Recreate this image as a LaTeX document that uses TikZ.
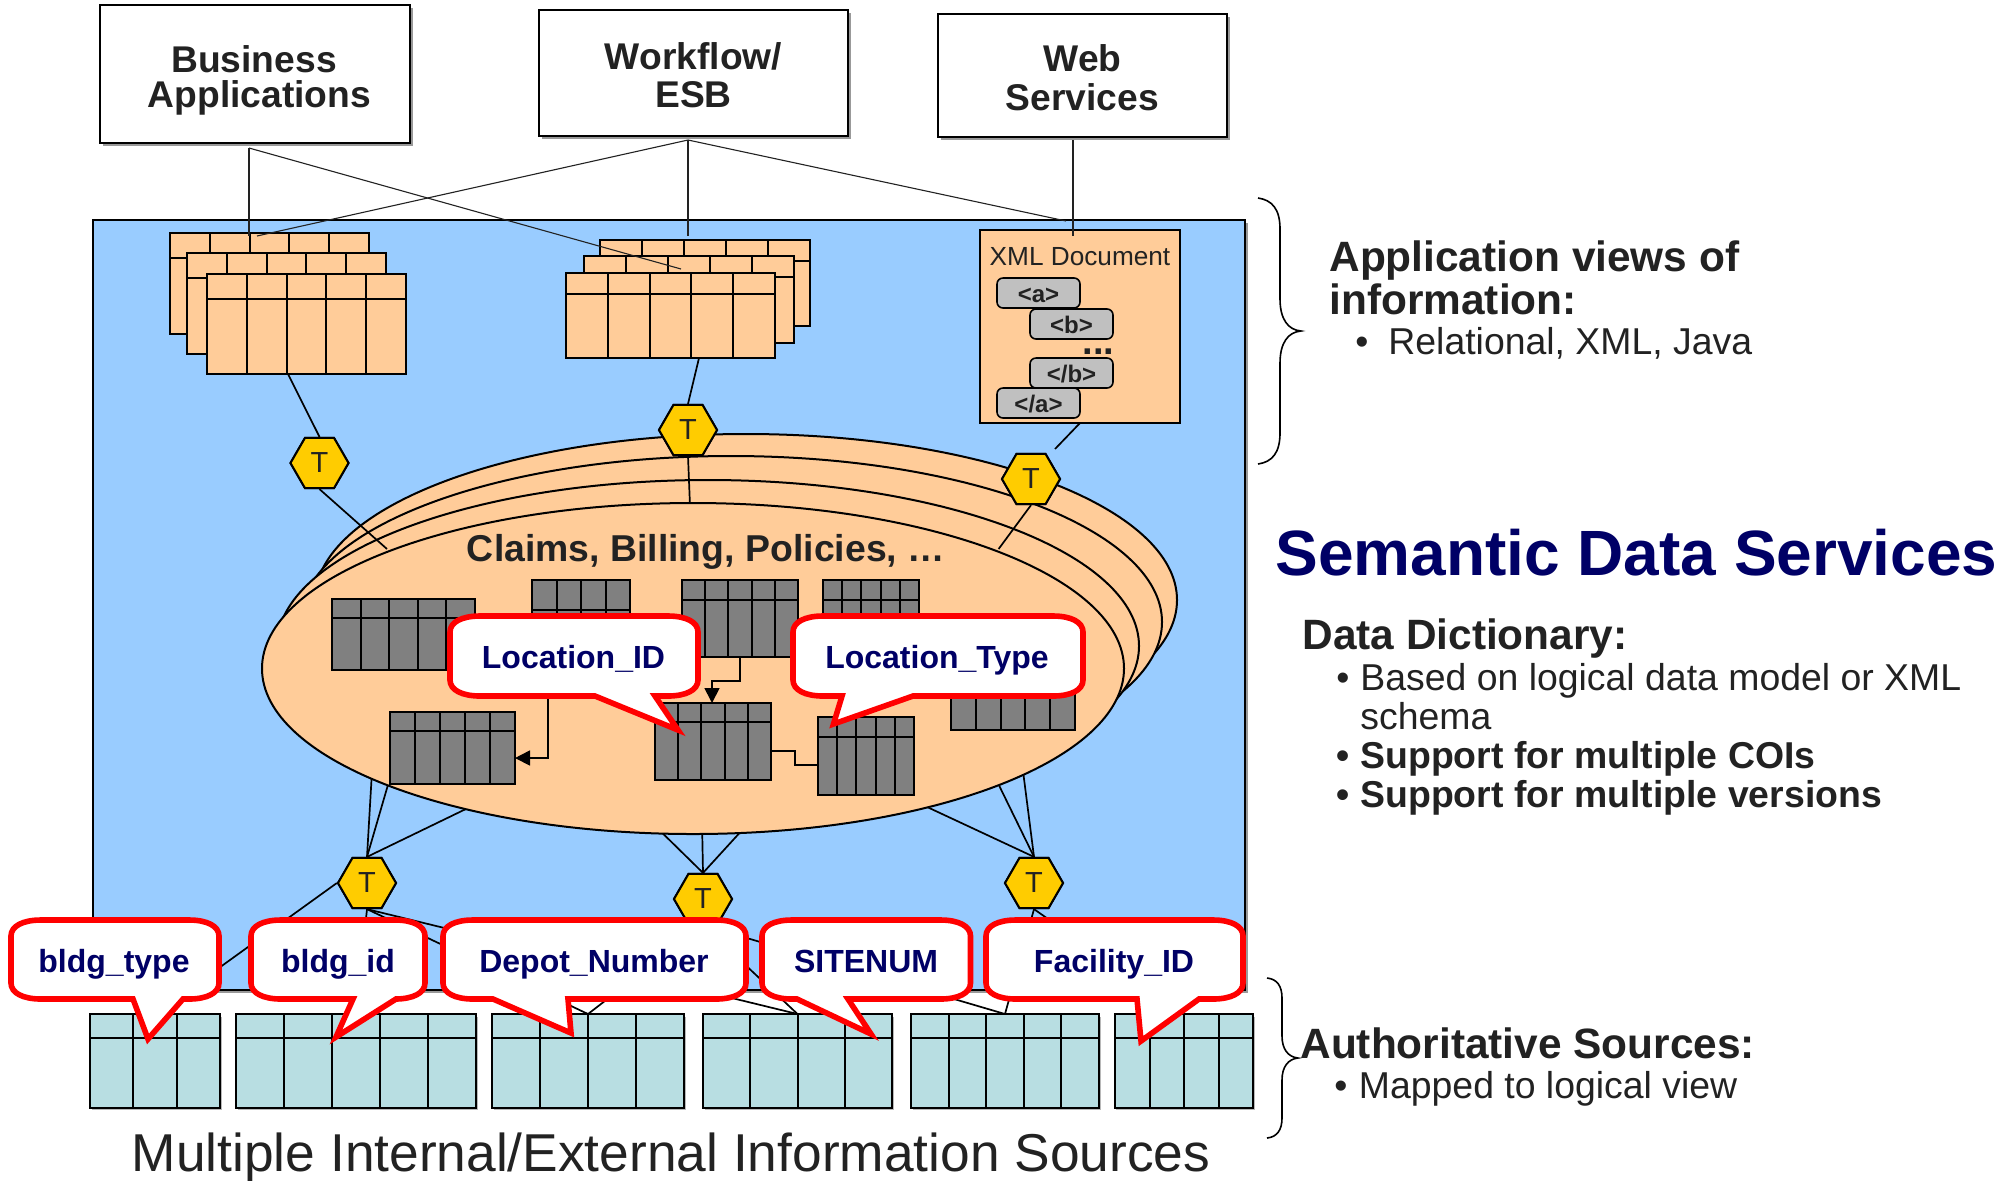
\documentclass[tikz,border=0pt]{standalone}
\usepackage{fontspec}
\setmainfont{Liberation Sans}
\usetikzlibrary{shapes.geometric,arrows.meta}
\definecolor{ink}{HTML}{222222}
\definecolor{navy}{HTML}{000066}
\definecolor{bluebg}{HTML}{99CCFF}
\definecolor{peach}{HTML}{FFCC99}
\definecolor{srcfill}{HTML}{B8DEE2}
\definecolor{tgray}{HTML}{808080}
\definecolor{shadowc}{HTML}{999999}
\definecolor{hexy}{HTML}{FFCC00}
\definecolor{xmlgray}{HTML}{C0C0C0}
\newcommand{\fs}[1]{\fontsize{#1}{#1}\selectfont}
% table: name x1 y1 x2 y2 header ncols fill
\newcommand{\tbl}[8]{%
  \node[draw=black,fill=#8,line width=1pt,inner sep=0pt,outer sep=0pt,
    minimum width={(#4-#2)*0.5pt},minimum height={(#5-#3)*0.5pt}] (#1) at ({(#2+#4)/2},{(#3+#5)/2}) {};
  \draw[line width=1pt] (#2,#6) -- (#4,#6);
  \foreach \k in {1,...,#7}{\ifnum\k<#7\relax
    \draw[line width=1pt] ({#2+(#4-#2)*\k/#7},#3) -- ({#2+(#4-#2)*\k/#7},#5);\fi}%
}
% speech bubble: l r t b x1 tipx tipy x2
\newcommand{\speech}[8]{%
  \draw[bubble] (#1,#3+16) .. controls (#1,#3+6) and (#1+12,#3) .. (#1+30,#3) -- (#2-30,#3)
   .. controls (#2-12,#3) and (#2,#3+6) .. (#2,#3+16) -- (#2,#4-16)
   .. controls (#2,#4-6) and (#2-12,#4) .. (#2-30,#4) -- (#8,#4) -- (#6,#7) -- (#5,#4) -- (#1+30,#4)
   .. controls (#1+12,#4) and (#1,#4-6) .. (#1,#4-16) -- cycle;%
}
\tikzset{
  appbox/.style={draw=black,fill=white,line width=1pt,inner sep=0pt},
  applabel/.style={text=ink,inner sep=0pt,anchor=base,font=\bfseries\fs{18.6}},
  hexT/.style={regular polygon,regular polygon sides=6,draw=black,fill=hexy,line width=1pt,inner sep=0pt,minimum size=29pt,text=ink,font=\fs{14.5}},
  thin link/.style={line width=0.55pt,draw=ink},
  link/.style={line width=0.85pt,draw=black},
  blob/.style={ellipse,draw=black,fill=peach,line width=1pt,inner sep=0pt,minimum width=431pt,minimum height=165pt},
  bubble/.style={draw=red,fill=white,line width=2.8pt,miter limit=10,line join=miter},
  bubtext/.style={text=navy,anchor=base,font=\bfseries\fs{16},inner sep=0pt},
  tagbox/.style={draw=black,fill=xmlgray,line width=0.8pt,rounded corners=3pt,inner sep=0pt,minimum width=41.5pt,minimum height=15pt},
  taglabel/.style={text=ink,anchor=base,inner sep=0pt,font=\bfseries\fs{12}},
  head/.style={anchor=base west,text=ink,inner sep=0pt,font=\bfseries\fs{21.2}},
  body/.style={anchor=base west,text=ink,inner sep=0pt,font=\fs{18.7}},
  bodyb/.style={anchor=base west,text=ink,inner sep=0pt,font=\bfseries\fs{18.7}},
  brace line/.style={line width=0.8pt,draw=black},
}
\begin{document}
\begin{tikzpicture}[x=0.5pt,y=-0.5pt]
\useasboundingbox (0,-1) rectangle (2016,1179);
\fill[white] (0,-1) rectangle (2016,1179);

% blue panel
\fill[shadowc] (95,222) rectangle (1248,992);
\node[draw=black,fill=bluebg,line width=1pt,inner sep=0pt,outer sep=0pt,minimum width=576pt,minimum height=385pt] (panel) at (668.5,604) {};

% application boxes
\fill[shadowc] (103,7) rectangle (413,145);
\node[appbox,minimum width=155pt,minimum height=69pt] (bizapp) at (254.5,73) {};
\node[applabel] (bizl1) at (254,71) {Business};
\node[applabel] (bizl2) at (259.5,106) {Applications};
\fill[shadowc] (542,12) rectangle (851,138);
\node[appbox,minimum width=154.5pt,minimum height=63pt] (wflow) at (693.5,72) {};
\node[applabel] (wfl1) at (693.5,68) {Workflow/};
\node[applabel] (wfl2) at (693.5,106.5) {ESB};
\fill[shadowc] (941,16) rectangle (1230,139);
\node[appbox,minimum width=144.5pt,minimum height=61.5pt] (websvc) at (1082.5,74.5) {};
\node[applabel] (webl1) at (1082.5,70) {Web};
\node[applabel] (webl2) at (1082.5,109) {Services};

% upper tables
\tbl{ua}{170}{232}{369}{333}{257}{5}{peach}
\tbl{ub}{187}{252}{386}{353}{277}{5}{peach}
\tbl{uc}{207}{273}{406}{373}{298}{5}{peach}
\tbl{ud}{600}{239}{810}{325}{260}{5}{peach}
\tbl{ue}{584}{255}{794}{342}{276}{5}{peach}
\tbl{uf}{566}{272}{775}{357}{293}{5}{peach}

% XML document
\node[draw=black,fill=peach,line width=1pt,inner sep=0pt,outer sep=0pt,minimum width=100pt,minimum height=96.5pt] (xmldoc) at (1080,325.5) {};
\node[text=ink,inner sep=0pt,font=\fs{13.1}] (xmlt) at (1080,256) {XML Document};
\node[tagbox] (taga) at (1038.5,292) {};
\node[taglabel] (tagal) at (1038.5,301) {<a>};
\node[tagbox] (tagb) at (1071.5,323) {};
\node[taglabel] (tagbl) at (1071.5,332) {<b>};
\node[text=ink,anchor=base,inner sep=0pt,font=\bfseries\fs{19}] (tagdots) at (1098.5,353) {...};
\node[tagbox] (tagbc) at (1071.5,372) {};
\node[taglabel] (tagbcl) at (1071.5,381) {</b>};
\node[tagbox] (tagac) at (1038.5,402) {};
\node[taglabel] (tagacl) at (1038.5,411) {</a>};

% connectors from the application boxes
\coordinate (bizjoin) at (249,147);
\coordinate (wfjoin) at (688,139);
\coordinate (webjoin) at (1073,139);
\coordinate (enda) at (249,235);
\coordinate (endb) at (681,268);
\coordinate (endc) at (257,235);
\coordinate (endd) at (688,235);
\coordinate (ende) at (1066,220);
\coordinate (endf) at (1073,235);
\draw[thin link] (bizjoin) -- (enda);
\draw[thin link] (bizjoin) -- (endb);
\draw[thin link] (wfjoin) -- (endc);
\draw[thin link] (wfjoin) -- (endd);
\draw[thin link] (wfjoin) -- (ende);
\draw[thin link] (webjoin) -- (endf);

% rear ellipses
\node[blob,minimum height=166pt] (e4) at (746,599) {};
\node[blob,minimum height=166pt] (e3) at (731,621) {};
\node[blob,minimum height=166pt] (e2) at (708,645) {};

% hexagon positions
\node[hexT] (t1) at (319.5,462) {T};
\node[hexT] (t2) at (688,429) {T};
\node[hexT] (t3) at (1031,478) {T};
\node[hexT] (t4) at (367,882) {T};
\node[hexT] (t5) at (703,898) {T};
\node[hexT] (t6) at (1034,882) {T};

% links hidden by the front ellipse
\coordinate (ua1) at (288,373);
\coordinate (ea1) at (387,548);
\coordinate (ua2) at (699,357);
\coordinate (ea2) at (690,505);
\coordinate (xa) at (1080,422);
\coordinate (xb) at (1055,448);
\coordinate (ea3) at (998.6,548);
\draw[link] (ua1) -- (t1.north);
\draw[link] (t1.south) -- (ea1);
\draw[link] (ua2) -- (t2.north);
\draw[link] (t2.south) -- (ea2);
\draw[link] (xa) -- (xb);
\draw[link] (t3.south) -- (ea3);
\coordinate (l1) at (372,770);
\coordinate (l2) at (392,770);
\coordinate (l3) at (470,806);
\coordinate (m1) at (645,815);
\coordinate (m2) at (702,820);
\coordinate (m3) at (755,815);
\coordinate (r1) at (925,805);
\coordinate (r2) at (992,770);
\coordinate (r3) at (1023,770);
\draw[link] (t4.north) -- (l1);
\draw[link] (t4.north) -- (l2);
\draw[link] (t4.north) -- (l3);
\draw[link] (t5.north) -- (m1);
\draw[link] (t5.north) -- (m2);
\draw[link] (t5.north) -- (m3);
\draw[link] (t6.north) -- (r1);
\draw[link] (t6.north) -- (r2);
\draw[link] (t6.north) -- (r3);

% front ellipse
\node[blob,minimum height=165.5pt] (e1) at (693,667.5) {};
\node[text=ink,inner sep=0pt,anchor=base,font=\bfseries\fs{18.7}] (claims) at (706,560) {Claims, Billing, Policies, …};

% inner tables
\tbl{g1}{332}{598}{475}{669}{617}{5}{tgray}
\tbl{g2}{532}{579}{630}{660}{609}{4}{tgray}
\tbl{g3}{682}{579}{798}{656}{599}{5}{tgray}
\tbl{g4}{823}{579}{919}{660}{599}{5}{tgray}
\tbl{g5}{951}{640}{1075}{729}{660}{5}{tgray}
\tbl{g6}{390}{711}{515}{783}{730}{5}{tgray}
\tbl{g7}{655}{702}{771}{779}{721}{5}{tgray}
\tbl{g8}{818}{716}{914}{794}{736}{5}{tgray}

% joins between inner tables
\coordinate (jg2) at (548,660);
\coordinate (jg6) at (548,757);
\coordinate (jg6e) at (515,757);
\coordinate (jg3) at (740,656);
\coordinate (jg3a) at (740,680);
\coordinate (jg3b) at (712,680);
\coordinate (jg7) at (712,702);
\coordinate (jg7r) at (771,750);
\coordinate (jg7m) at (795,750);
\coordinate (jg8m) at (795,764);
\coordinate (jg8) at (818,764);
\draw[link,-{Triangle[length=7.5pt,width=7.5pt]}] (jg2) -- (jg6) -- (jg6e);
\draw[link,-{Triangle[length=7.5pt,width=7.5pt]}] (jg3) -- (jg3a) -- (jg3b) -- (jg7);
\draw[link] (jg7r) -- (jg7m) -- (jg8m) -- (jg8);

% source tables
\fill[shadowc!70] (92,1016) rectangle (222,1109);
\fill[shadowc!70] (238,1016) rectangle (478,1109);
\fill[shadowc!70] (494,1016) rectangle (686,1109);
\fill[shadowc!70] (705,1016) rectangle (894,1109);
\fill[shadowc!70] (913,1016) rectangle (1101,1109);
\fill[shadowc!70] (1116,1016) rectangle (1255,1109);
\tbl{s1}{90}{1013}{220}{1107}{1037}{3}{srcfill}
\tbl{s2}{236}{1013}{476}{1107}{1037}{5}{srcfill}
\tbl{s3}{492}{1013}{684}{1107}{1037}{4}{srcfill}
\tbl{s4}{703}{1013}{892}{1107}{1037}{4}{srcfill}
\tbl{s5}{911}{1013}{1099}{1107}{1037}{5}{srcfill}
\tbl{s6}{1115}{1013}{1253}{1107}{1037}{4}{srcfill}

% links to the sources
\draw[link] (t4.west) -- (s1.north);
\draw[link] (t4.south) -- (s2.north);
\draw[link] (t4.south) -- (s3.north);
\draw[link] (t4.south) -- (s4.north);
\draw[link] (t5.south) -- (s3.north);
\draw[link] (t5.south) -- (s4.north);
\draw[link] (t5.south) -- (s5.north);
\draw[link] (t6.south) -- (s5.north);
\draw[link] (t6.south) -- (s6.north);

% redraw hexagons above links
\node[hexT] (t1b) at (t1) {T};
\node[hexT] (t2b) at (t2) {T};
\node[hexT] (t3b) at (t3) {T};
\node[hexT] (t4b) at (t4) {T};
\node[hexT] (t5b) at (t5) {T};
\node[hexT] (t6b) at (t6) {T};

% speech bubbles
\speech{450}{698}{615}{695}{595}{678}{729}{655}
\node[bubtext] (bLocId) at (573.5,667) {Location\_ID};
\speech{793}{1083}{615}{695}{842}{833.5}{723}{913}
\node[bubtext] (bLocTy) at (937,667) {Location\_Type};
\speech{11}{219}{919}{998}{133}{148}{1038}{183}
\node[bubtext] (bType) at (114,971) {bldg\_type};
\speech{251}{425}{919}{998}{353}{336}{1036}{396}
\node[bubtext] (bId) at (338,971) {bldg\_id};
\speech{443}{746}{919}{998}{493}{571}{1032}{568}
\node[bubtext] (bDepot) at (594,971) {Depot\_Number};
\speech{762}{970.5}{919}{998}{797}{871}{1033}{848}
\node[bubtext] (bSite) at (866,971) {SITENUM};
\speech{986}{1243}{919}{998}{1137}{1141}{1040}{1199}
\node[bubtext] (bFac) at (1114,971) {Facility\_ID};

% braces
\draw[brace line] (1258,197) .. controls (1272,199) and (1280,208) .. (1280,228) -- (1280,298)
  .. controls (1280,318) and (1288,329) .. (1301,330) .. controls (1288,331) and (1280,342) .. (1280,362)
  -- (1280,432) .. controls (1280,452) and (1272,461) .. (1258,463);
\draw[brace line] (1267,977) .. controls (1277,978) and (1282,985) .. (1282,997) -- (1282,1035)
  .. controls (1282,1048) and (1288,1056) .. (1298,1057) .. controls (1288,1058) and (1282,1066) .. (1282,1079)
  -- (1282,1117) .. controls (1282,1129) and (1277,1136) .. (1267,1137);

% right-hand text
\node[head] (ha) at (1329,270) {Application views of};
\node[head] (hb) at (1329,313) {information:};
\node[body] (bua) at (1355,353) {•};
\node[body] (tua) at (1388,353) {Relational, XML, Java};
\node[text=navy,anchor=base west,inner sep=0pt,font=\bfseries\fs{32}] (sds) at (1275,574) {Semantic Data Services};
\node[head] (dd) at (1302,648) {Data Dictionary:};
\node[body] (bub) at (1336,689) {•};
\node[body] (tub) at (1360,689) {Based on logical data model or XML};
\node[body] (tuc) at (1360,728) {schema};
\node[bodyb] (buc) at (1336,767) {•};
\node[bodyb] (tud) at (1360,767) {Support for multiple COIs};
\node[bodyb] (bud) at (1336,806) {•};
\node[bodyb] (tue) at (1360,806) {Support for multiple versions};
\node[head] (auth) at (1300,1057) {Authoritative Sources:};
\node[body] (bue) at (1334,1097) {•};
\node[body] (tuf) at (1358.5,1097) {Mapped to logical view};
\node[text=ink,inner sep=0pt,anchor=base,font=\fs{26.65}] (multi) at (671,1170) {Multiple Internal/External Information Sources};
\end{tikzpicture}
\end{document}
